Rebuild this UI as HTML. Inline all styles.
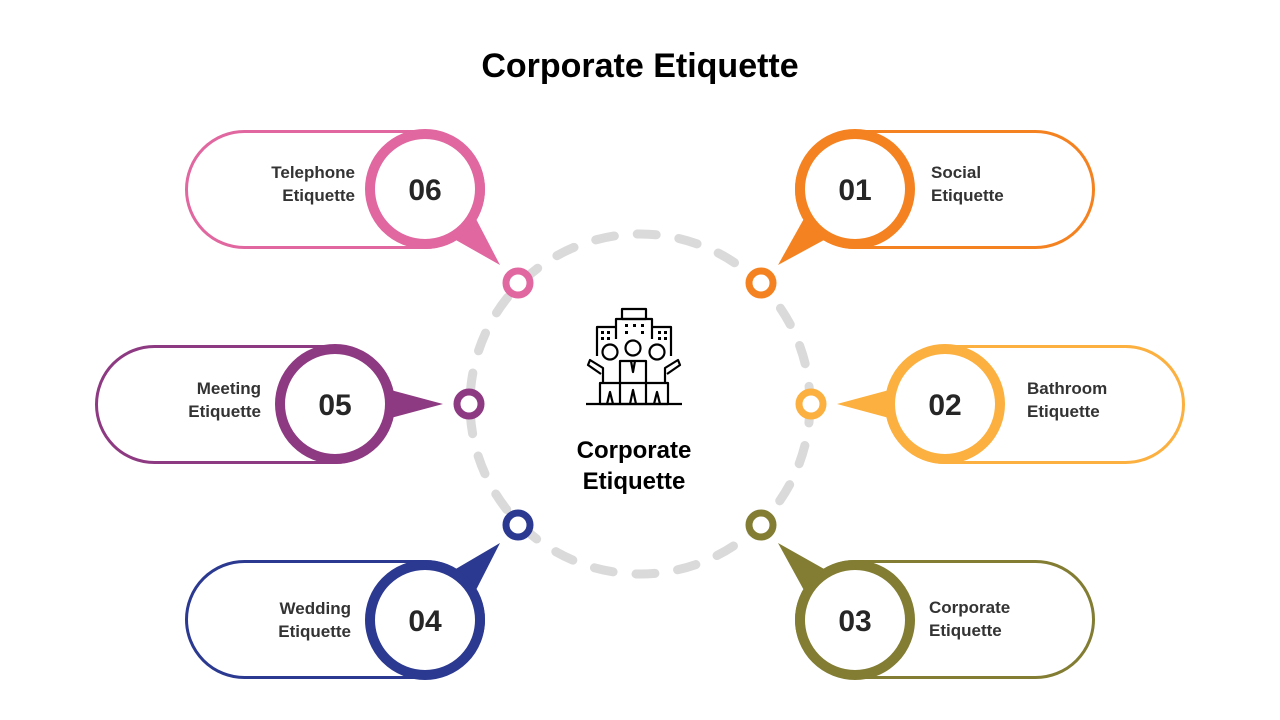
<!DOCTYPE html>
<html><head><meta charset="utf-8"><style>
html,body{margin:0;padding:0;background:#fff;}
svg{display:block}
text{font-family:"Liberation Sans",sans-serif;font-weight:bold;}
.n{font-size:30px;fill:#262626;text-anchor:middle}
.l{font-size:17px;fill:#333}
</style></head><body>
<svg width="1280" height="720" viewBox="0 0 1280 720">
<text x="640" y="77" text-anchor="middle" font-size="34" fill="#000">Corporate Etiquette</text>
<circle cx="640" cy="404" r="170" fill="none" stroke="#dadada" stroke-width="9" stroke-linecap="round" stroke-dasharray="19 23"/>

<!-- 06 -->
<rect x="186.5" y="131.5" width="297" height="116" rx="58" fill="#fff" stroke="#e0679f" stroke-width="3"/>
<polygon points="451.2,237.4 473.7,214.5 500,265" fill="#e0679f"/>
<circle cx="425" cy="189" r="55" fill="#fff" stroke="#e0679f" stroke-width="10"/>
<text class="n" x="425" y="200">06</text>
<text class="l" x="355" y="178" text-anchor="end">Telephone</text>
<text class="l" x="355" y="201" text-anchor="end">Etiquette</text>

<!-- 05 -->
<rect x="96.5" y="346.5" width="297" height="116" rx="58" fill="#fff" stroke="#8e3a82" stroke-width="3"/>
<polygon points="387,389 387,419 443,404" fill="#8e3a82"/>
<circle cx="335" cy="404" r="55" fill="#fff" stroke="#8e3a82" stroke-width="10"/>
<text class="n" x="335" y="415">05</text>
<text class="l" x="261" y="394" text-anchor="end">Meeting</text>
<text class="l" x="261" y="417" text-anchor="end">Etiquette</text>

<!-- 04 -->
<rect x="186.5" y="561.5" width="297" height="116" rx="58" fill="#fff" stroke="#2b3990" stroke-width="3"/>
<polygon points="451.2,571.6 473.7,594.5 500,543" fill="#2b3990"/>
<circle cx="425" cy="620" r="55" fill="#fff" stroke="#2b3990" stroke-width="10"/>
<text class="n" x="425" y="631">04</text>
<text class="l" x="351" y="614" text-anchor="end">Wedding</text>
<text class="l" x="351" y="637" text-anchor="end">Etiquette</text>

<!-- 01 -->
<rect x="796.5" y="131.5" width="297" height="116" rx="58" fill="#fff" stroke="#f58220" stroke-width="3"/>
<polygon points="828.8,237.4 806.3,214.5 778,265" fill="#f58220"/>
<circle cx="855" cy="189" r="55" fill="#fff" stroke="#f58220" stroke-width="10"/>
<text class="n" x="855" y="200">01</text>
<text class="l" x="931" y="178">Social</text>
<text class="l" x="931" y="201">Etiquette</text>

<!-- 02 -->
<rect x="886.5" y="346.5" width="297" height="116" rx="58" fill="#fff" stroke="#fbb040" stroke-width="3"/>
<polygon points="893,389 893,419 837,404" fill="#fbb040"/>
<circle cx="945" cy="404" r="55" fill="#fff" stroke="#fbb040" stroke-width="10"/>
<text class="n" x="945" y="415">02</text>
<text class="l" x="1027" y="394">Bathroom</text>
<text class="l" x="1027" y="417">Etiquette</text>

<!-- 03 -->
<rect x="796.5" y="561.5" width="297" height="116" rx="58" fill="#fff" stroke="#827d32" stroke-width="3"/>
<polygon points="828.8,571.6 806.3,594.5 778,543" fill="#827d32"/>
<circle cx="855" cy="620" r="55" fill="#fff" stroke="#827d32" stroke-width="10"/>
<text class="n" x="855" y="631">03</text>
<text class="l" x="929" y="613">Corporate</text>
<text class="l" x="929" y="636">Etiquette</text>

<!-- small circles -->
<g fill="#fff" stroke-width="7">
<circle cx="518" cy="283" r="12" stroke="#e0679f"/>
<circle cx="761" cy="283" r="12" stroke="#f58220"/>
<circle cx="469" cy="404" r="12" stroke="#8e3a82"/>
<circle cx="811" cy="404" r="12" stroke="#fbb040"/>
<circle cx="518" cy="525" r="12" stroke="#2b3990"/>
<circle cx="761" cy="525" r="12" stroke="#827d32"/>
</g>

<!-- icon -->
<g fill="none" stroke="#000" stroke-width="2.2" stroke-linejoin="round">
<rect x="622" y="309" width="24" height="10"/>
<path d="M616 339 V319 H652 V339"/>
<path d="M597 356 V327 H616"/>
<path d="M652 327 H671 V356"/>
<circle cx="610" cy="352" r="7.5"/>
<circle cx="633" cy="348" r="7.5"/>
<circle cx="657" cy="352" r="7.5"/>
<path d="M603 383 V368 L590 360 L588 365 L601 374"/>
<path d="M665 383 V368 L678 360 L680 365 L667 374"/>
<path d="M620 383 V361 H646 V383"/>
<path d="M631 361 L633 372 L635 361"/>
<path d="M600 383 H668 V404 H600 Z"/>
<path d="M620 383 V404 M646 383 V404"/>
<path d="M607 404 L610 392 L613 404 M630 404 L633 390 L636 404 M654 404 L657 392 L660 404"/>
<path d="M586 404 H682"/>
</g>
<g fill="#000">
<rect x="625" y="324" width="3" height="3"/><rect x="633" y="324" width="3" height="3"/><rect x="641" y="324" width="3" height="3"/>
<rect x="625" y="331" width="3" height="3"/><rect x="641" y="331" width="3" height="3"/>
<rect x="601" y="331" width="3" height="3"/><rect x="607" y="331" width="3" height="3"/>
<rect x="601" y="337" width="3" height="3"/><rect x="607" y="337" width="3" height="3"/>
<rect x="658" y="331" width="3" height="3"/><rect x="664" y="331" width="3" height="3"/>
<rect x="658" y="337" width="3" height="3"/><rect x="664" y="337" width="3" height="3"/>
</g>
<text x="634" y="458" text-anchor="middle" font-size="24" fill="#000">Corporate</text>
<text x="634" y="489" text-anchor="middle" font-size="24" fill="#000">Etiquette</text>
</svg>
</body></html>
